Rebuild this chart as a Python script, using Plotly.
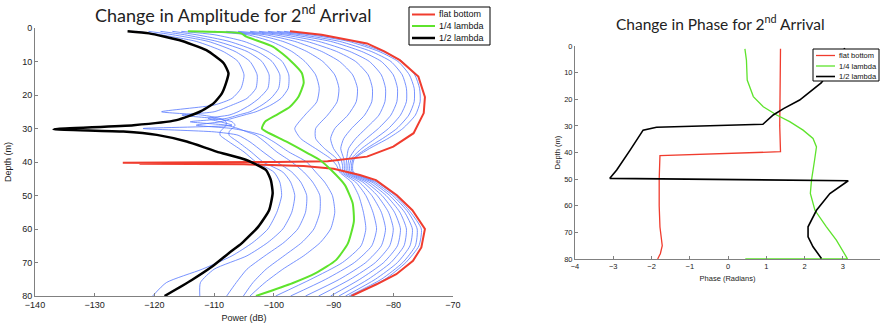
import plotly.graph_objects as go

# ---------------- Left panel: amplitude ----------------
red_amp_depth = [1, 2, 4.6, 7, 9.6, 14.5, 20.6, 25.4, 31.4, 35.4, 38.4, 39.8, 40.0, 40.2, 40.35, 40.5, 40.7, 41.2, 42, 43.9, 45.4, 49.9, 54.4, 60, 65.5, 69.5, 73.5, 76.5, 80]
red_amp = [-97.3, -92, -84.4, -81.5, -78.9, -75.8, -74.7, -74.9, -76.6, -80, -84.4, -91, -99.5, -125.3, -110, -122.5, -105, -95, -90, -85.6, -82.9, -79.4, -76.8, -74.7, -75.3, -76.7, -79.5, -82.8, -87]

green_amp_depth = [1, 1.6, 2.6, 5.6, 9.6, 13.5, 16.4, 20.6, 23.5, 26, 28, 30, 31, 34, 37.4, 39.4, 42.4, 46.9, 52.3, 57.7, 64.3, 69.3, 73.2, 76.2, 80]
green_amp = [-114.4, -105.5, -104.6, -100.1, -97.3, -95.3, -95, -95.9, -97.3, -99.6, -101.5, -102, -101.2, -97.8, -94.3, -92.3, -90.4, -88.1, -86.8, -86.6, -87.6, -89.6, -93, -96.9, -103]

black_amp_depth = [1, 1.6, 3.6, 6.6, 10.5, 13.5, 16.4, 19.5, 22.5, 25, 27.5, 29, 30.2, 30.9, 31.9, 33.9, 36.9, 39.4, 42.4, 45.4, 49.3, 54.4, 59.3, 64.3, 67.3, 71.3, 75.3, 80]
black_amp = [-124.5, -120.9, -115.9, -111.3, -108.4, -107.6, -108, -108.7, -110.1, -112.4, -116.3, -123.5, -136.9, -125.2, -119.6, -114.6, -109.6, -104.6, -101.3, -100.5, -100.2, -100.8, -102.6, -105.4, -107.6, -110.4, -113.8, -118.3]

# inner blue curves (between black and green)
inner_depth = [1, 2, 4, 7, 10, 14, 18, 21, 23, 25, 26, 27, 28, 29, 30, 31, 32, 34, 37, 40, 43, 46, 50, 55, 60, 64, 68, 72, 76, 80]
blue_in_1 = [-123, -119, -113, -108.5, -106, -105, -105.5, -107, -110, -118.8, -112, -109, -108, -108, -108.5, -109, -109, -107.5, -105, -103, -100, -99, -98.7, -99.5, -101, -103.5, -107, -112, -118, -120.3]
blue_in_2 = [-121, -117, -111, -106.5, -104, -102.8, -103, -104.5, -107, -110, -115.4, -110, -107, -106.5, -107, -107.5, -107.5, -106, -103.8, -101.8, -98.5, -97.2, -96.5, -97, -98.5, -101, -104.5, -110, -112.3, -112.4]
blue_in_3 = [-119, -115, -109.5, -104.5, -102, -100.8, -101, -102.5, -104, -106, -107.5, -111, -109, -107, -121.9, -110, -106, -104, -101.8, -99.5, -97, -95.5, -94.5, -94.7, -96, -98.3, -101.5, -104.5, -106.3, -107.9]
blue_in_4 = [-117, -113, -107.5, -102.8, -100.3, -99, -99.2, -100.5, -102, -104, -106, -108, -114, -108, -106, -104.5, -103, -101.5, -99.5, -97, -95, -93.5, -92.3, -92.3, -93.3, -95.3, -98.3, -101.3, -103.5, -105.1]
blue_in_5 = [-115.5, -110, -105, -101, -98.6, -97.5, -97.6, -98.8, -100.5, -103, -105, -107, -109, -113, -107, -104, -102, -100, -97.5, -94.5, -93, -91.5, -90.2, -89.8, -90.5, -92.2, -95, -98.5, -101.5, -104]

# outer blue curves (between green and red)
outer_depth = [1, 2, 4, 7, 10, 14, 18, 22, 26, 30, 33, 36, 39, 41, 43, 46, 50, 55, 60, 65, 70, 75, 80]
blue_out_1 = [-112, -104.5, -100.5, -97, -94.8, -93, -92.4, -92.8, -94.8, -96.5, -95.5, -93, -90.5, -89.5, -89, -87, -85.8, -85, -84.6, -85.4, -88.5, -93.8, -99.7]
blue_out_2 = [-110, -103, -98.5, -94.5, -91.8, -89.8, -89.1, -89.4, -91, -93, -93, -91.5, -89.5, -89, -88.7, -86.3, -84.6, -83.4, -82.8, -83.6, -86.5, -91.3, -97.2]
blue_out_3 = [-108, -101.5, -96.5, -92, -89, -86.8, -86, -86.2, -87.6, -89.8, -90.5, -90, -88.8, -88.5, -88.4, -85.7, -83.6, -82, -81.3, -82, -84.6, -89, -94.7]
blue_out_4 = [-106, -100, -94.5, -89.5, -86.3, -84.2, -83.5, -83.6, -84.8, -87, -88.3, -88.8, -88.3, -88.2, -88.1, -85.1, -82.7, -80.8, -80, -80.6, -83, -87.2, -92.5]
blue_out_5 = [-104, -98.5, -92.5, -87.3, -84, -82, -81.3, -81.4, -82.4, -84.6, -86.3, -87.5, -87.8, -87.9, -87.8, -84.6, -81.9, -79.8, -78.8, -79.3, -81.6, -85.6, -90.5]
blue_out_6 = [-102.5, -97, -90.5, -85.3, -82, -80, -79.3, -79.4, -80.4, -82.5, -84.5, -86.3, -87.4, -87.6, -87.5, -84.1, -81.2, -78.9, -77.8, -78.2, -80.4, -84.2, -89.1]
blue_out_7 = [-101, -95.5, -89, -83.7, -80.4, -78.5, -77.8, -77.8, -78.8, -80.8, -83, -85.3, -87, -87.3, -87.2, -83.6, -80.6, -78.1, -76.8, -77.2, -79.3, -83, -88]
blue_out_8 = [-99.5, -94, -87.5, -82.4, -79.2, -77.3, -76.5, -76.5, -77.4, -79.4, -81.8, -84.5, -86.7, -87, -86.9, -83.2, -80.1, -77.5, -76, -76.3, -78.4, -82, -87.4]
blue_out_9 = [-98.3, -93, -86.6, -81.8, -78.5, -76.4, -75.6, -75.5, -76.3, -78.4, -80.9, -84, -86.5, -86.8, -86.7, -82.8, -79.7, -77.1, -75.3, -75.7, -77.9, -81.4, -87.1]

# ---------------- Right panel: phase ----------------
red_ph_depth = [1, 10, 20, 30, 39.7, 41.2, 50, 60, 68, 72, 75, 78, 80]
red_ph = [1.37, 1.36, 1.35, 1.35, 1.37, -1.78, -1.8, -1.8, -1.78, -1.74, -1.72, -1.77, -1.84]

green_ph_depth = [1.1, 5.3, 12.8, 19, 22.8, 25.9, 28.4, 31.6, 34.7, 37.9, 42.9, 50.4, 55.4, 61.7, 67.9, 72.9, 79.2, 80, 80]
green_ph = [0.44, 0.48, 0.5, 0.66, 0.92, 1.27, 1.61, 1.96, 2.22, 2.31, 2.26, 2.18, 2.15, 2.27, 2.57, 2.83, 3.09, 3.12, 0.45]

black_ph_depth = [0.8, 13.8, 20.3, 23.5, 25.9, 29.4, 30.5, 31.6, 39.1, 46.6, 49.7, 50.6, 55.4, 61.7, 67.9, 71.7, 75.4, 79.8]
black_ph = [3.05, 2.44, 1.87, 1.45, 1.18, 0.91, -1.87, -2.22, -2.56, -2.91, -3.09, 3.14, 2.66, 2.31, 2.09, 2.09, 2.22, 2.44]

legend_labels = ["flat bottom", "1/4 lambda", "1/2 lambda"]
amp_xticks = [-140, -130, -120, -110, -100, -90, -80, -70]
depth_ticks = [0, 10, 20, 30, 40, 50, 60, 70, 80]
phase_xticks = [-4, -3, -2, -1, 0, 1, 2, 3, 4]

RED = "#f03c2e"
GREEN = "#5ee32c"
BLUE = "#5577ff"
colors = [RED, GREEN, "black"]

fig = go.Figure()

inner = [blue_in_1, blue_in_2, blue_in_3, blue_in_4, blue_in_5]
outer = [blue_out_1, blue_out_2, blue_out_3, blue_out_4, blue_out_5, blue_out_6, blue_out_7, blue_out_8, blue_out_9]
for vals in inner:
    fig.add_trace(go.Scatter(x=vals, y=inner_depth, mode="lines",
                             line=dict(color=BLUE, width=0.8, shape="spline", smoothing=0.6),
                             xaxis="x", yaxis="y", hoverinfo="skip"))
for vals in outer:
    fig.add_trace(go.Scatter(x=vals, y=outer_depth, mode="lines",
                             line=dict(color=BLUE, width=0.8, shape="spline", smoothing=0.6),
                             xaxis="x", yaxis="y", hoverinfo="skip"))

fig.add_trace(go.Scatter(x=red_amp, y=red_amp_depth, mode="lines", name=legend_labels[0],
                         line=dict(color=RED, width=2), xaxis="x", yaxis="y"))
fig.add_trace(go.Scatter(x=green_amp, y=green_amp_depth, mode="lines", name=legend_labels[1],
                         line=dict(color=GREEN, width=2, shape="spline", smoothing=0.5), xaxis="x", yaxis="y"))
fig.add_trace(go.Scatter(x=black_amp, y=black_amp_depth, mode="lines", name=legend_labels[2],
                         line=dict(color="black", width=2.5, shape="spline", smoothing=0.5), xaxis="x", yaxis="y"))

fig.add_trace(go.Scatter(x=red_ph, y=red_ph_depth, mode="lines", name=legend_labels[0],
                         line=dict(color=RED, width=1.3), xaxis="x2", yaxis="y2"))
fig.add_trace(go.Scatter(x=green_ph, y=green_ph_depth, mode="lines", name=legend_labels[1],
                         line=dict(color=GREEN, width=1.3), xaxis="x2", yaxis="y2"))
fig.add_trace(go.Scatter(x=black_ph, y=black_ph_depth, mode="lines", name=legend_labels[2],
                         line=dict(color="black", width=1.6), xaxis="x2", yaxis="y2"))

axis_common = dict(showgrid=False, zeroline=False, showline=True, linecolor="#808080", linewidth=1,
                   ticks="inside", ticklen=3, tickcolor="#808080", mirror=False, automargin=False)
TF = "Liberation Sans"
W, H = 880, 324


def px(x):
    return x / W


def py(y):
    return 1 - y / H


shapes = []
annotations = [
    dict(text="Change in Amplitude for 2<sup>nd</sup> Arrival", x=px(233), y=py(14), xref="paper", yref="paper",
         xanchor="center", yanchor="middle", showarrow=False, font=dict(family="Lato", size=18, color="#222")),
    dict(text="Change in Phase for 2<sup>nd</sup> Arrival", x=px(720), y=py(23), xref="paper", yref="paper",
         xanchor="center", yanchor="middle", showarrow=False, font=dict(family="Lato", size=15.5, color="#222")),
]

# manual legends (box, line samples, labels)
legend_specs = [
    dict(box=(409, 490, 7, 45), line=(412, 435), tx=437, rows=(14.5, 26, 38), fs=9, lw=(2, 2, 2.5)),
    dict(box=(813, 879, 49, 81), line=(816, 835), tx=837, rows=(55.5, 66, 76.5), fs=7.5, lw=(1.3, 1.3, 1.6)),
]
for spec in legend_specs:
    bx0, bx1, by0, by1 = spec["box"]
    shapes.append(dict(type="rect", xref="paper", yref="paper", x0=px(bx0), x1=px(bx1), y0=py(by1), y1=py(by0),
                       line=dict(color="black", width=1), fillcolor="white", layer="above"))
    for lbl, col, ry, lw in zip(legend_labels, colors, spec["rows"], spec["lw"]):
        shapes.append(dict(type="line", xref="paper", yref="paper", x0=px(spec["line"][0]), x1=px(spec["line"][1]),
                           y0=py(ry), y1=py(ry), line=dict(color=col, width=lw), layer="above"))
        annotations.append(dict(text=lbl, x=px(spec["tx"]), y=py(ry), xref="paper", yref="paper",
                                xanchor="left", yanchor="middle", showarrow=False,
                                font=dict(family=TF, size=spec["fs"], color="#111")))

fig.update_layout(
    width=W, height=H, margin=dict(l=0, r=0, t=0, b=0, autoexpand=False),
    paper_bgcolor="white", plot_bgcolor="white", showlegend=False,
    xaxis=dict(domain=[35/W, 453/W], range=[-140, -70], tickvals=amp_xticks, anchor="y",
               tickfont=dict(family=TF, size=9, color="#222"),
               title=dict(text="Power (dB)", font=dict(family=TF, size=9, color="#222"), standoff=5), **axis_common),
    yaxis=dict(domain=[(H-296)/H, (H-28)/H], range=[80, 0], tickvals=depth_ticks, anchor="x",
               tickfont=dict(family=TF, size=9, color="#222"),
               title=dict(text="Depth (m)", font=dict(family=TF, size=9, color="#222"), standoff=9), **axis_common),
    xaxis2=dict(domain=[575/W, 1.0], range=[-4, 3.97], tickvals=phase_xticks, anchor="y2",
                tickfont=dict(family=TF, size=7.5, color="#222"),
                title=dict(text="Phase (Radians)", font=dict(family=TF, size=7.5, color="#222"), standoff=5), **axis_common),
    yaxis2=dict(domain=[(H-259)/H, (H-46)/H], range=[80, 0], tickvals=depth_ticks, anchor="x2",
                tickfont=dict(family=TF, size=7.5, color="#222"),
                title=dict(text="Depth (m)", font=dict(family=TF, size=7.5, color="#222"), standoff=2), **axis_common),
    shapes=shapes,
    annotations=annotations,
)

fig.write_html("out.html")
